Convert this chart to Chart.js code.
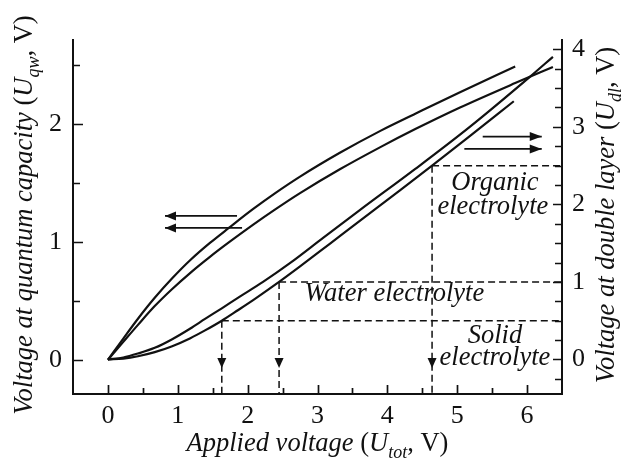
<!DOCTYPE html>
<html>
<head>
<meta charset="utf-8">
<script src="https://cdn.jsdelivr.net/npm/chart.js@4.4.1/dist/chart.umd.min.js"></script>
<style>
html,body{margin:0;padding:0;background:#ffffff;}
#c{display:block;}
</style>
</head>
<body>
<canvas id="c" width="625" height="459"></canvas>
<script>
// ---------------- DATA ----------------
// Upper pair (left axis, Uqw)
const upperOuterX = [0, 0.22, 0.43, 0.67, 0.92, 1.18, 1.46, 1.73, 2.08, 2.39, 2.75, 3.32, 3.90, 4.40, 5.04, 5.83];
const upperOuterY = [0, 0.18, 0.348, 0.525, 0.69, 0.845, 0.99, 1.117, 1.278, 1.41, 1.552, 1.754, 1.94, 2.085, 2.268, 2.485];
const upperInnerX = [0, 0.22, 0.43, 0.67, 0.92, 1.18, 1.46, 1.73, 2.08, 2.39, 2.75, 3.32, 3.90, 4.40, 5.04, 5.83, 6.37];
const upperInnerY = [0, 0.152, 0.296, 0.455, 0.60, 0.737, 0.872, 0.994, 1.145, 1.272, 1.412, 1.614, 1.802, 1.955, 2.138, 2.345, 2.481];
// Lower pair (right axis, Udl)
const lowerSteepX = [0, 0.22, 0.43, 0.67, 0.92, 1.18, 1.39, 1.63, 1.86, 2.22, 2.61, 3.08, 3.61, 4.40, 5.18, 6.04, 6.37];
const lowerSteepY = [0, 0.026, 0.077, 0.15, 0.262, 0.40, 0.523, 0.66, 0.795, 1.0, 1.245, 1.568, 1.929, 2.458, 3.0, 3.645, 3.903];
const lowerOuterX = [0, 0.22, 0.43, 0.67, 0.92, 1.18, 1.39, 1.63, 1.86, 2.11, 2.45, 2.75, 3.18, 3.61, 4.18, 4.64, 5.18, 5.81];
const lowerOuterY = [0, 0.012, 0.042, 0.095, 0.172, 0.275, 0.375, 0.5, 0.635, 0.785, 1.0, 1.2, 1.495, 1.79, 2.18, 2.5, 2.88, 3.33];
// Electrolyte window guides (x where the curve reaches the level, level on right axis)
const guideX = [1.63, 2.45, 4.64];
const guideLevel = [0.5, 1.0, 2.5];
const guideArrowTip = -0.11;
// Direction arrows
const leftArrowY = [1.219, 1.117];
const leftArrowFrom = [1.848, 1.92];
const leftArrowTo = [0.817, 0.817];
const rightArrowY = [2.875, 2.716];
const rightArrowFrom = [5.365, 5.102];
const rightArrowTo = [6.21, 6.21];
// Annotations
const noteText = ['Organic', 'electrolyte', 'Water electrolyte', 'Solid', 'electrolyte'];
const noteX = [5.54, 5.51, 4.10, 5.54, 5.54];
const noteY = [2.19, 1.88, 0.748, 0.213, -0.071];
// Ticks (all tick marks; labelled ones listed separately)
const xTicks = [0, 0.5, 1, 1.5, 2, 2.5, 3, 3.5, 4, 4.5, 5, 5.5, 6];
const leftTicks = [0, 0.5, 1, 1.5, 2, 2.5];
const rightTicks = [-0.25, 0, 0.25, 0.5, 0.75, 1, 1.25, 1.5, 1.75, 2, 2.25, 2.5, 2.75, 3, 3.25, 3.5, 3.75, 4];
const xTickLabels = [0, 1, 2, 3, 4, 5, 6];
const leftTickLabels = [0, 1, 2];
const rightTickLabels = [0, 1, 2, 3, 4];
const xRange = [-0.5, 6.5];
const leftRange = [-0.29, 2.71];
const rightRange = [-0.445, 4.12];

// ---------------- STYLE ----------------
const ink = '#111111';
const serif = '"Liberation Serif", "Times New Roman", serif';
const FS_TICK = 26;
const FS_TEXT = 26.5;

const pts = (xs, ys) => xs.map((x, i) => ({x: x, y: ys[i]}));
const curve = (xs, ys, axis) => ({
  data: pts(xs, ys), yAxisID: axis, borderColor: ink, borderWidth: 2.2,
  pointRadius: 0, fill: false, cubicInterpolationMode: 'monotone'
});

const datasets = [
  curve(upperOuterX, upperOuterY, 'yL'),
  curve(upperInnerX, upperInnerY, 'yL'),
  curve(lowerSteepX, lowerSteepY, 'yR'),
  curve(lowerOuterX, lowerOuterY, 'yR')
];
guideX.forEach((gx, i) => {
  datasets.push({
    data: [{x: gx, y: guideLevel[i]}, {x: xRange[1], y: guideLevel[i]}],
    yAxisID: 'yR', borderColor: ink, borderWidth: 1.5, borderDash: [7, 4], pointRadius: 0, tension: 0
  });
  datasets.push({
    data: [{x: gx, y: guideLevel[i]}, {x: gx, y: guideArrowTip}, {x: gx, y: rightRange[0]}],
    yAxisID: 'yR', borderColor: ink, borderWidth: 1.5, borderDash: [7, 4], pointRadius: 0, tension: 0,
    arrowAt: 1, arrowLen: 10, arrowHalf: 4.5
  });
});
leftArrowY.forEach((ay, i) => {
  datasets.push({
    data: [{x: leftArrowFrom[i], y: ay}, {x: leftArrowTo[i], y: ay}],
    yAxisID: 'yL', borderColor: ink, borderWidth: 1.7, pointRadius: 0, tension: 0,
    arrowAt: 1, arrowLen: 11, arrowHalf: 4.5
  });
});
rightArrowY.forEach((ay, i) => {
  datasets.push({
    data: [{x: rightArrowFrom[i], y: ay}, {x: rightArrowTo[i], y: ay}],
    yAxisID: 'yR', borderColor: ink, borderWidth: 1.7, pointRadius: 0, tension: 0,
    arrowAt: 1, arrowLen: 12, arrowHalf: 4.5
  });
});

// ---------------- PLUGINS ----------------
function richMeasure(ctx, parts, size) {
  let total = 0;
  const ms = parts.map(p => {
    const fs = p.sub ? size * 0.68 : size;
    const font = (p.it ? 'italic ' : '') + fs + 'px ' + serif;
    ctx.font = font;
    const w = ctx.measureText(p.t).width;
    total += w;
    return {p: p, font: font, w: w};
  });
  return {total: total, ms: ms};
}
function richDraw(ctx, parts, size, cx, baseline) {
  const m = richMeasure(ctx, parts, size);
  let x = cx - m.total / 2;
  ctx.textAlign = 'left';
  ctx.textBaseline = 'alphabetic';
  m.ms.forEach(it => {
    ctx.font = it.font;
    ctx.fillText(it.p.t, x, baseline + (it.p.sub ? size * 0.27 : 0));
    x += it.w;
  });
}
const xTitle = [{t: 'Applied voltage ', it: 1}, {t: '(', it: 0}, {t: 'U', it: 1}, {t: 'tot', it: 1, sub: 1}, {t: ', V)', it: 0}];
const lTitle = [{t: 'Voltage at quantum capacity ', it: 1}, {t: '(', it: 0}, {t: 'U', it: 1}, {t: 'qw', it: 1, sub: 1}, {t: ', V)', it: 0}];
const rTitle = [{t: 'Voltage at double layer ', it: 1}, {t: '(', it: 0}, {t: 'U', it: 1}, {t: 'dl', it: 1, sub: 1}, {t: ', V)', it: 0}];

const isWhole = v => Math.abs(v - Math.round(v)) < 1e-6;

const decorPlugin = {
  id: 'decor',
  afterDatasetsDraw(chart) {
    const ctx = chart.ctx;
    ctx.save();
    ctx.fillStyle = ink;
    chart.data.datasets.forEach((ds, i) => {
      if (ds.arrowAt === undefined) return;
      const meta = chart.getDatasetMeta(i);
      const p = meta.data[ds.arrowAt], q = meta.data[ds.arrowAt - 1];
      const ang = Math.atan2(p.y - q.y, p.x - q.x);
      const L = ds.arrowLen, H = ds.arrowHalf;
      ctx.beginPath();
      ctx.moveTo(p.x, p.y);
      ctx.lineTo(p.x - L * Math.cos(ang) - H * Math.sin(ang), p.y - L * Math.sin(ang) + H * Math.cos(ang));
      ctx.lineTo(p.x - L * Math.cos(ang) + H * Math.sin(ang), p.y - L * Math.sin(ang) - H * Math.cos(ang));
      ctx.closePath();
      ctx.fill();
    });
    const xs = chart.scales.x, yr = chart.scales.yR;
    ctx.font = 'italic ' + FS_TEXT + 'px ' + serif;
    ctx.textAlign = 'center';
    ctx.textBaseline = 'alphabetic';
    noteText.forEach((t, i) => {
      ctx.fillText(t, xs.getPixelForValue(noteX[i]), yr.getPixelForValue(noteY[i]));
    });
    ctx.restore();
  },
  afterDraw(chart) {
    const ctx = chart.ctx;
    const ca = chart.chartArea;
    const {x, yL, yR} = chart.scales;
    ctx.save();
    ctx.strokeStyle = ink;
    ctx.lineWidth = 1.7;
    ctx.beginPath();
    x.ticks.forEach(t => {
      const px = Math.round(x.getPixelForValue(t.value)) + 0.5;
      const len = isWhole(t.value) ? 9 : 6;
      ctx.moveTo(px, ca.bottom); ctx.lineTo(px, ca.bottom - len);
    });
    yL.ticks.forEach(t => {
      const py = Math.round(yL.getPixelForValue(t.value)) + 0.5;
      const len = isWhole(t.value) ? 10 : 7;
      ctx.moveTo(ca.left, py); ctx.lineTo(ca.left + len, py);
    });
    yR.ticks.forEach(t => {
      const py = Math.round(yR.getPixelForValue(t.value)) + 0.5;
      const len = isWhole(t.value) ? 9 : 7;
      ctx.moveTo(ca.right, py); ctx.lineTo(ca.right - len, py);
    });
    ctx.stroke();
    ctx.fillStyle = ink;
    const cx = (ca.left + ca.right) / 2;
    const cy = (ca.top + ca.bottom) / 2 - 2;
    richDraw(ctx, xTitle, FS_TEXT, cx, ca.bottom + 57);
    ctx.save();
    ctx.translate(32, cy);
    ctx.rotate(-Math.PI / 2);
    richDraw(ctx, lTitle, FS_TEXT, 0, 0);
    ctx.restore();
    ctx.save();
    ctx.translate(614, cy);
    ctx.rotate(-Math.PI / 2);
    richDraw(ctx, rTitle, FS_TEXT, 0, 0);
    ctx.restore();
    ctx.restore();
  }
};

const tickFont = {family: serif, size: FS_TICK};
const labelFor = (labels) => (v) => {
  const r = Math.round(v);
  return (isWhole(v) && labels.includes(r)) ? String(r) : '';
};
const setTicks = (vals) => (s) => { s.ticks = vals.map(v => ({value: v})); };

new Chart(document.getElementById('c').getContext('2d'), {
  type: 'line',
  data: {datasets: datasets},
  options: {
    responsive: false,
    animation: false,
    devicePixelRatio: 1,
    layout: {padding: {top: 40, left: 0, right: 0, bottom: 0}},
    plugins: {legend: {display: false}, tooltip: {enabled: false}},
    elements: {point: {radius: 0}},
    scales: {
      x: {
        type: 'linear', position: 'bottom', min: xRange[0], max: xRange[1],
        afterBuildTicks: setTicks(xTicks),
        ticks: {autoSkip: false, maxRotation: 0, padding: 7, font: tickFont, color: ink, callback: labelFor(xTickLabels)},
        grid: {display: true, drawOnChartArea: false, drawTicks: false},
        border: {display: true, width: 2, color: ink},
        afterFit: s => { s.height = 65; }
      },
      yL: {
        type: 'linear', position: 'left', min: leftRange[0], max: leftRange[1],
        afterBuildTicks: setTicks(leftTicks),
        ticks: {autoSkip: false, padding: 11, font: tickFont, color: ink, callback: labelFor(leftTickLabels)},
        grid: {display: true, drawOnChartArea: false, drawTicks: false},
        border: {display: true, width: 2, color: ink},
        afterFit: s => { s.width = 73; }
      },
      yR: {
        type: 'linear', position: 'right', min: rightRange[0], max: rightRange[1],
        afterBuildTicks: setTicks(rightTicks),
        ticks: {autoSkip: false, padding: 10, font: tickFont, color: ink, callback: labelFor(rightTickLabels)},
        grid: {display: true, drawOnChartArea: false, drawTicks: false},
        border: {display: true, width: 2, color: ink},
        afterFit: s => { s.width = 63; }
      }
    }
  },
  plugins: [decorPlugin]
});
</script>
</body>
</html>
